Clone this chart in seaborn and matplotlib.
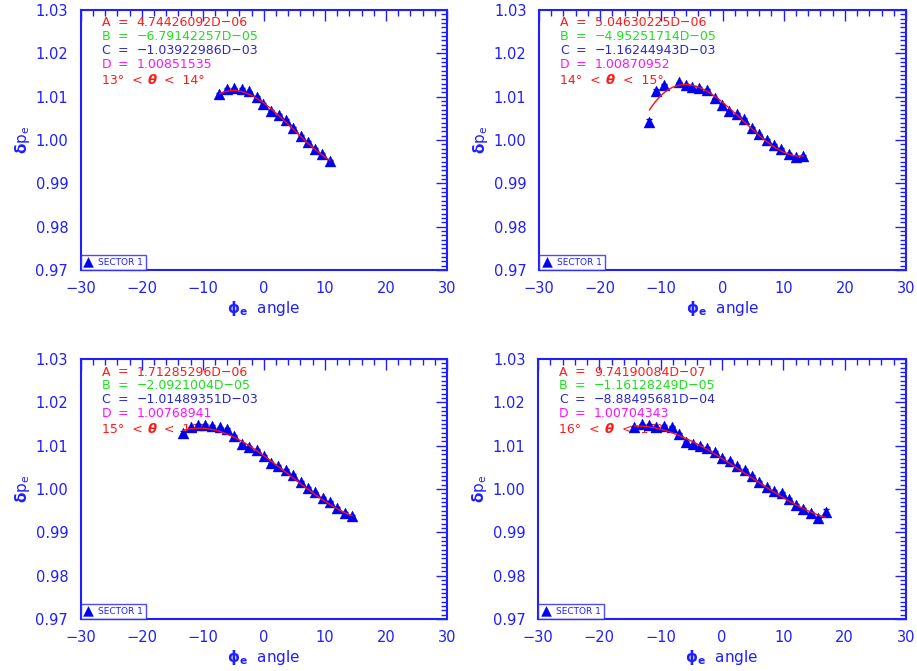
import numpy as np
import pandas as pd
import matplotlib
matplotlib.use("Agg")
import matplotlib.pyplot as plt
import seaborn as sns

# ---- data: phi_e bins (deg) and delta p_e per theta slice, sector 1 ----
phi_13 = [-7.29, -5.98, -4.83, -3.63, -2.43, -1.18, -0.08, 1.17, 2.43, 3.57,
          4.83, 6.03, 7.18, 8.43, 9.58, 10.84]
dp_13 = [1.0106, 1.0117, 1.0119, 1.0117, 1.0112, 1.0100, 1.0083, 1.0068, 1.0058,
         1.0046, 1.0028, 1.0010, 0.9995, 0.9979, 0.9968, 0.9952]
err_13 = [0.0003, 0.0002, 0.0002, 0.0002, 0.0002, 0.0002, 0.0002, 0.0002,
          0.0002, 0.0002, 0.0002, 0.0002, 0.0002, 0.0002, 0.0002, 0.0003]

phi_14 = [-11.96, -10.87, -9.57, -7.17, -6.02, -4.99, -3.79, -2.59, -1.28, -0.08,
          1.12, 2.31, 3.51, 4.77, 5.91, 7.22, 8.42, 9.62, 10.82, 12.02, 13.22]
dp_14 = [1.0042, 1.0114, 1.0128, 1.0133, 1.0127, 1.0123, 1.0120, 1.0115, 1.0096,
         1.0080, 1.0068, 1.0060, 1.0049, 1.0028, 1.0013, 1.0000, 0.9988, 0.9979,
         0.9968, 0.9960, 0.9963]
err_14 = [0.0006, 0.0003, 0.0002, 0.0002, 0.0002, 0.0002, 0.0002, 0.0002, 0.0002,
          0.0002, 0.0002, 0.0002, 0.0002, 0.0002, 0.0002, 0.0002, 0.0002, 0.0002,
          0.0002, 0.0002, 0.0003]

phi_15 = [-13.19, -11.99, -10.84, -9.64, -8.44, -7.18, -5.98, -4.89, -3.63, -2.43,
          -1.18, -0.03, 1.12, 2.37, 3.63, 4.83, 6.03, 7.18, 8.43, 9.63, 10.84,
          12.04, 13.29, 14.49]
dp_15 = [1.0130, 1.0142, 1.0148, 1.0147, 1.0145, 1.0142, 1.0139, 1.0122, 1.0105,
         1.0098, 1.0090, 1.0076, 1.0059, 1.0053, 1.0044, 1.0032, 1.0016, 1.0003,
         0.9992, 0.9980, 0.9971, 0.9957, 0.9944, 0.9938]
err_15 = [0.0003] + [0.0002] * 22 + [0.0003]

phi_16 = [-14.35, -13.10, -11.90, -10.76, -9.46, -8.20, -7.01, -5.92, -4.78, -3.59,
          -2.39, -1.14, 0.05, 1.30, 2.50, 3.70, 4.95, 6.09, 7.28, 8.48, 9.73,
          10.92, 12.06, 13.26, 14.46, 15.71, 16.90]
dp_16 = [1.0144, 1.0149, 1.0148, 1.0142, 1.0145, 1.0144, 1.0127, 1.0109, 1.0103,
         1.0099, 1.0094, 1.0086, 1.0072, 1.0065, 1.0053, 1.0044, 1.0030, 1.0017,
         1.0004, 0.9995, 0.9990, 0.9977, 0.9963, 0.9955, 0.9944, 0.9934, 0.9948]
err_16 = [0.0002] * 26 + [0.0006]

# cubic fit parameters  dp = A*phi^3 + B*phi^2 + C*phi + D
fit_13 = ["4.74426092D-06", "-6.79142257D-05", "-1.03922986D-03", "1.00851535"]
fit_14 = ["5.04630225D-06", "-4.95251714D-05", "-1.16244943D-03", "1.00870952"]
fit_15 = ["1.71285296D-06", "-2.0921004D-05", "-1.01489351D-03", "1.00768941"]
fit_16 = ["9.74190084D-07", "-1.16128249D-05", "-8.88495681D-04", "1.00704343"]

theta_lo = [13, 14, 15, 16]
x_ticks = [-30, -20, -10, 0, 10, 20, 30]
y_ticks = [0.97, 0.98, 0.99, 1.00, 1.01, 1.02, 1.03]

panels = [
    (phi_13, dp_13, err_13, fit_13),
    (phi_14, dp_14, err_14, fit_14),
    (phi_15, dp_15, err_15, fit_15),
    (phi_16, dp_16, err_16, fit_16),
]

# ---- styling ----
sns.set_style("white")
plt.rcParams["font.family"] = ["DejaVu Sans"]
plt.rcParams["axes.unicode_minus"] = True

AX_BLUE = "#1f1fff"
MARK_BLUE = "#0000f0"
FIT_RED = "#ff1010"
PAR_COLORS = ["#ff1a1a", "#1ee01e", "#2a2acc", "#ff10ff"]
PAR_NAMES = ["A", "B", "C", "D"]

W, H = 917, 671
fig = plt.figure(figsize=(W / 100, H / 100), dpi=100)

# axes rectangles in pixels: left, top, right, bottom
boxes = [(80.7, 10, 447, 270), (539, 10, 906, 270),
         (80.7, 359, 447, 619), (538, 359, 906, 619)]


def as_float(s):
    return float(s.replace("D", "e"))


def as_label(s):
    return s.replace("-", "\u2212")


for (phi, dp, err, fit), (l, t, r, b), th in zip(panels, boxes, theta_lo):
    ax = fig.add_axes([l / W, 1 - b / H, (r - l) / W, (b - t) / H])
    df = pd.DataFrame({"phi": phi, "dp": dp, "err": err})

    # error bars under the markers
    ax.errorbar(df["phi"], df["dp"], yerr=df["err"], fmt="none",
                ecolor=MARK_BLUE, elinewidth=1.0, capsize=2.5, capthick=1.0,
                zorder=3)
    sns.scatterplot(data=df, x="phi", y="dp", marker="^", s=62,
                    color=MARK_BLUE, edgecolor=MARK_BLUE, linewidth=0.3,
                    label="SECTOR 1", ax=ax, zorder=4)

    # fitted cubic over the measured range
    A, B, C, D = [as_float(p) for p in fit]
    xs = np.linspace(min(phi), max(phi), 200)
    fit_df = pd.DataFrame({"phi": xs, "dp": A * xs**3 + B * xs**2 + C * xs + D})
    sns.lineplot(data=fit_df, x="phi", y="dp", color=FIT_RED, linewidth=1.0,
                 ax=ax, zorder=5, legend=False)

    ax.set_xlim(-30, 30)
    ax.set_ylim(0.97, 1.03)
    ax.set_xticks(x_ticks)
    ax.set_yticks(y_ticks)
    ax.set_xticklabels([f"{v:d}".replace("-", "\u2212") for v in x_ticks])
    ax.set_yticklabels([f"{v:.2f}" for v in y_ticks])
    ax.xaxis.set_minor_locator(matplotlib.ticker.MultipleLocator(2))
    ax.yaxis.set_minor_locator(matplotlib.ticker.MultipleLocator(0.001))
    ax.tick_params(which="both", direction="in", top=True, right=True,
                   color=AX_BLUE, labelcolor=AX_BLUE, labelsize=10.5)
    ax.tick_params(which="major", length=8, width=1.0)
    ax.tick_params(which="minor", length=4, width=1.0)
    ax.tick_params(axis="y", which="both", pad=9)
    ax.tick_params(axis="x", which="both", pad=8)
    for sp in ax.spines.values():
        sp.set_color(AX_BLUE)
        sp.set_linewidth(1.5)
    ax.grid(False)

    ax.set_xlabel(r"$\mathbf{\phi}_{\mathbf{e}}$  angle", color=AX_BLUE,
                  fontsize=11)
    ax.xaxis.set_label_coords(0.5, -0.112)
    ax.set_ylabel(r"$\mathbf{\delta}\mathrm{p}_{\mathrm{e}}$", color=AX_BLUE,
                  fontsize=11)
    ax.yaxis.set_label_coords(-0.133, 0.5)

    # fit parameter block
    for i, (name, val, col) in enumerate(zip(PAR_NAMES, fit, PAR_COLORS)):
        yy = 0.95 - i * 0.053
        ax.text(0.057, yy, name, color=col, fontsize=9, transform=ax.transAxes,
                va="center", ha="left", zorder=2)
        ax.text(0.1, yy, "=", color=col, fontsize=9, transform=ax.transAxes,
                va="center", ha="left", zorder=2)
        ax.text(0.152, yy, as_label(val), color=col, fontsize=9,
                transform=ax.transAxes, va="center", ha="left", zorder=2)
    yy = 0.727
    ax.text(0.057, yy, f"{th}\u00b0  <", color=PAR_COLORS[0], fontsize=9,
            transform=ax.transAxes, va="center", ha="left", zorder=2)
    ax.text(0.182, yy, "\u03b8", color=PAR_COLORS[0], fontsize=9.5,
            fontweight="bold", fontstyle="italic", transform=ax.transAxes,
            va="center", ha="left", zorder=2)
    ax.text(0.228, yy, f"<  {th + 1}\u00b0", color=PAR_COLORS[0], fontsize=9,
            transform=ax.transAxes, va="center", ha="left", zorder=2)

    leg = ax.legend(loc="lower left", bbox_to_anchor=(0, 0), borderaxespad=0,
                    fontsize=6.5, frameon=True, fancybox=False,
                    edgecolor=AX_BLUE, handletextpad=0.6, borderpad=0.35,
                    handlelength=1.0, markerscale=0.9)
    leg.get_frame().set_linewidth(1.0)
    for txt in leg.get_texts():
        txt.set_color(AX_BLUE)

fig.savefig("out.png", dpi=100, facecolor="white")
